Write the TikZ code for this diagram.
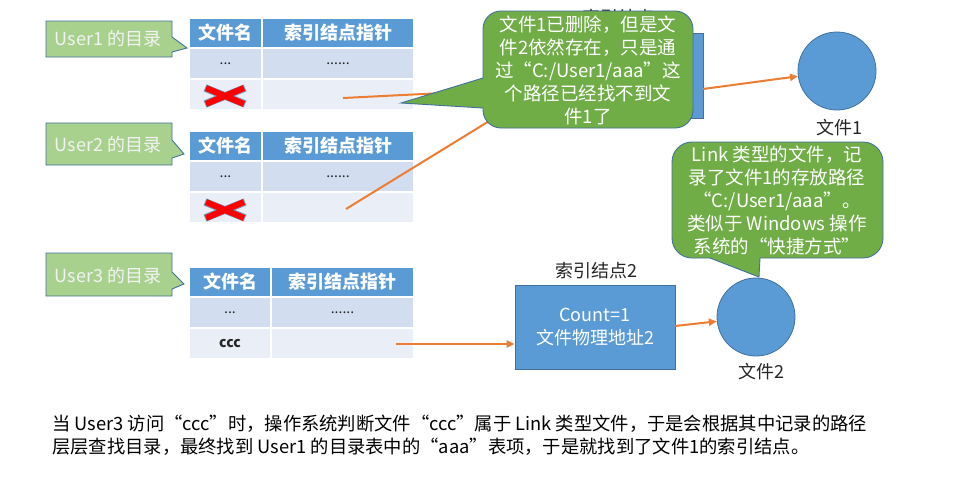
\documentclass[tikz,border=0pt]{standalone}
\usepackage{fontspec}
\setmainfont{Noto Sans CJK SC}
\usetikzlibrary{arrows.meta}
\definecolor{hdr}{HTML}{5B9BD5}
\definecolor{rowa}{HTML}{D2DEEF}
\definecolor{rowb}{HTML}{EAEFF7}
\definecolor{ugreen}{HTML}{A9D18E}
\definecolor{dgreen}{HTML}{70AD47}
\definecolor{edgeblue}{HTML}{41719C}
\definecolor{org}{HTML}{ED7D31}
\definecolor{txt}{HTML}{262626}
\tikzset{
  cellbase/.style={draw=white, line width=1.5pt, inner sep=0pt, outer sep=0pt, anchor=north west},
  hcell/.style={cellbase, fill=hdr, text=white, font=\fontsize{18}{20}\selectfont\bfseries},
  acell/.style={cellbase, fill=rowa, text=txt, font=\fontsize{14}{16}\selectfont},
  bcell/.style={cellbase, fill=rowb, text=txt, font=\fontsize{14}{16}\selectfont},
  ucall/.style={fill=ugreen, draw=edgeblue, line width=0.9pt},
  utext/.style={text=white!95!black, font=\fontsize{18}{20}\selectfont},
  gcall/.style={fill=dgreen, draw=edgeblue, line width=0.9pt},
  gtext/.style={text=white, align=center, font=\fontsize{18.5}{23}\selectfont},
  arr/.style={draw=org, line width=2pt, -{Triangle[length=8pt,width=7pt]}},
  blockbox/.style={fill=hdr, draw=edgeblue, line width=0.8pt, inner sep=0pt},
  filecirc/.style={circle, fill=hdr, draw=edgeblue, line width=0.8pt, minimum size=78pt, inner sep=0pt},
  lbl/.style={text=txt, font=\fontsize{18}{20}\selectfont},
  crossbar/.style={line width=6pt, draw=red},
  crossshade/.style={line width=7.6pt, draw=edgeblue!70},
  bottomtext/.style={anchor=west, text=black, font=\fontsize{18.3}{20}\selectfont, inner sep=0pt},
}
% table: #1 prefix, #2 top y, #3 divider x, #4 text of last row first cell
\newcommand\dirtable[4]{%
  \node[hcell, minimum width=#3-189, minimum height=30] (#1h1) at (189,#2) {文件名};
  \node[hcell, minimum width=414-#3, minimum height=30] (#1h2) at (#3,#2) {索引结点指针};
  \node[acell, minimum width=#3-189, minimum height=31] (#1a1) at (189,#2+30) {...};
  \node[acell, minimum width=414-#3, minimum height=31] (#1a2) at (#3,#2+30) {......};
  \node[bcell, minimum width=#3-189, minimum height=31] (#1b1) at (189,#2+61) {#4};
  \node[bcell, minimum width=414-#3, minimum height=31] (#1b2) at (#3,#2+61) {};
}
\begin{document}
\begin{tikzpicture}[x=1pt,y=-1pt]
\useasboundingbox (0,0) rectangle (953,482);
\fill[white] (0,0) rectangle (953,482);

% tables
\dirtable{ta}{18}{262}{}
\dirtable{tb}{131}{262}{}
\dirtable{tc}{267}{271}{\textbf{ccc}}

% red crosses
\foreach \cy in {96, 210}{
  \draw[crossshade] (205,\cy-8) -- (245,\cy+8);
  \draw[crossshade] (205,\cy+8) -- (245,\cy-8);
  \draw[crossbar] (206,\cy-8) -- (244,\cy+8);
  \draw[crossbar] (206,\cy+8) -- (244,\cy-8);
}

% user callouts
\draw[ucall] (46,21) -- (172,21) -- (172,37) -- (187,48) -- (172,52) -- (172,57) -- (46,57) -- cycle;
\node[utext] (u1) at (108,39) {User1 的目录};
\draw[ucall] (46,123) -- (172,123) -- (172,140) -- (184,154) -- (172,158) -- (172,165) -- (46,165) -- cycle;
\node[utext] (u2) at (108,145) {User2 的目录};
\draw[ucall] (46,253) -- (172,253) -- (172,272) -- (184,284) -- (172,289) -- (172,296) -- (46,296) -- cycle;
\node[utext] (u3) at (108,276) {User3 的目录};

% index node 1 (mostly hidden)
\node[lbl] (l1) at (623,17.5) {索引结点1};
\node[blockbox, minimum width=160pt, minimum height=85pt] (inode1) at (623,75.5) {};

% index node 2
\node[lbl] (l2) at (596,271) {索引结点2};
\node[blockbox, minimum width=160pt, minimum height=84pt, text=white, align=center,
      font=\fontsize{18}{23}\selectfont] (inode2) at (595,327) {Count=1\\文件物理地址2};

% files
\node[filecirc] (file1) at (837,71) {};
\node[lbl] (f1) at (839,128) {文件1};
\node[filecirc] (file2) at (756,317) {};
\node[lbl] (f2) at (761,372) {文件2};

% connectors
\coordinate (sa) at (343,98);
\coordinate (sb) at (346,209);
\coordinate (sc) at (396,344);
\coordinate (ea) at (543,88);
\draw[arr] (sa) -- (ea);
\draw[arr] (sb) -- (ea);
\draw[arr] (sc) -- (inode2.west |- sc);
\coordinate (oa) at (703,89);
\draw[arr] (oa) -- (file1);
\coordinate (ob) at (675,326);
\draw[arr] (ob) -- (file2);

% big callout 1
\draw[gcall] (483,78) -- (483,29) arc[start angle=180, end angle=270, radius=18]
  -- (675,11) arc[start angle=270, end angle=360, radius=18]
  -- (693,110) arc[start angle=0, end angle=90, radius=18]
  -- (501,128) arc[start angle=90, end angle=180, radius=18]
  -- (483,108) -- (401,103) -- cycle;
\node[gtext] (c1) at (588,70) {文件1已删除，但是文\\件2依然存在，只是通\\过“C:/User1/aaa”这\\个路径已经找不到文\\件1了};

% big callout 2
\draw[gcall] (760,258) -- (759,277) -- (710,258) -- (692,258)
  arc[start angle=90, end angle=180, radius=20]
  -- (672,162) arc[start angle=180, end angle=270, radius=20]
  -- (863,142) arc[start angle=270, end angle=360, radius=20]
  -- (883,238) arc[start angle=0, end angle=90, radius=20] -- cycle;
\node[gtext] (c2) at (777,200) {Link 类型的文件，记\\录了文件1的存放路径\\“C:/User1/aaa”。\\类似于 Windows 操作\\系统的“快捷方式”};

% bottom explanation
\node[bottomtext] (n1) at (52,424)
  {当 User3 访问“ccc”时，操作系统判断文件“ccc”属于 Link 类型文件，于是会根据其中记录的路径};
\node[bottomtext] (n2) at (52,447)
  {层层查找目录，最终找到 User1 的目录表中的“aaa”表项，于是就找到了文件1的索引结点。};
\end{tikzpicture}
\end{document}
